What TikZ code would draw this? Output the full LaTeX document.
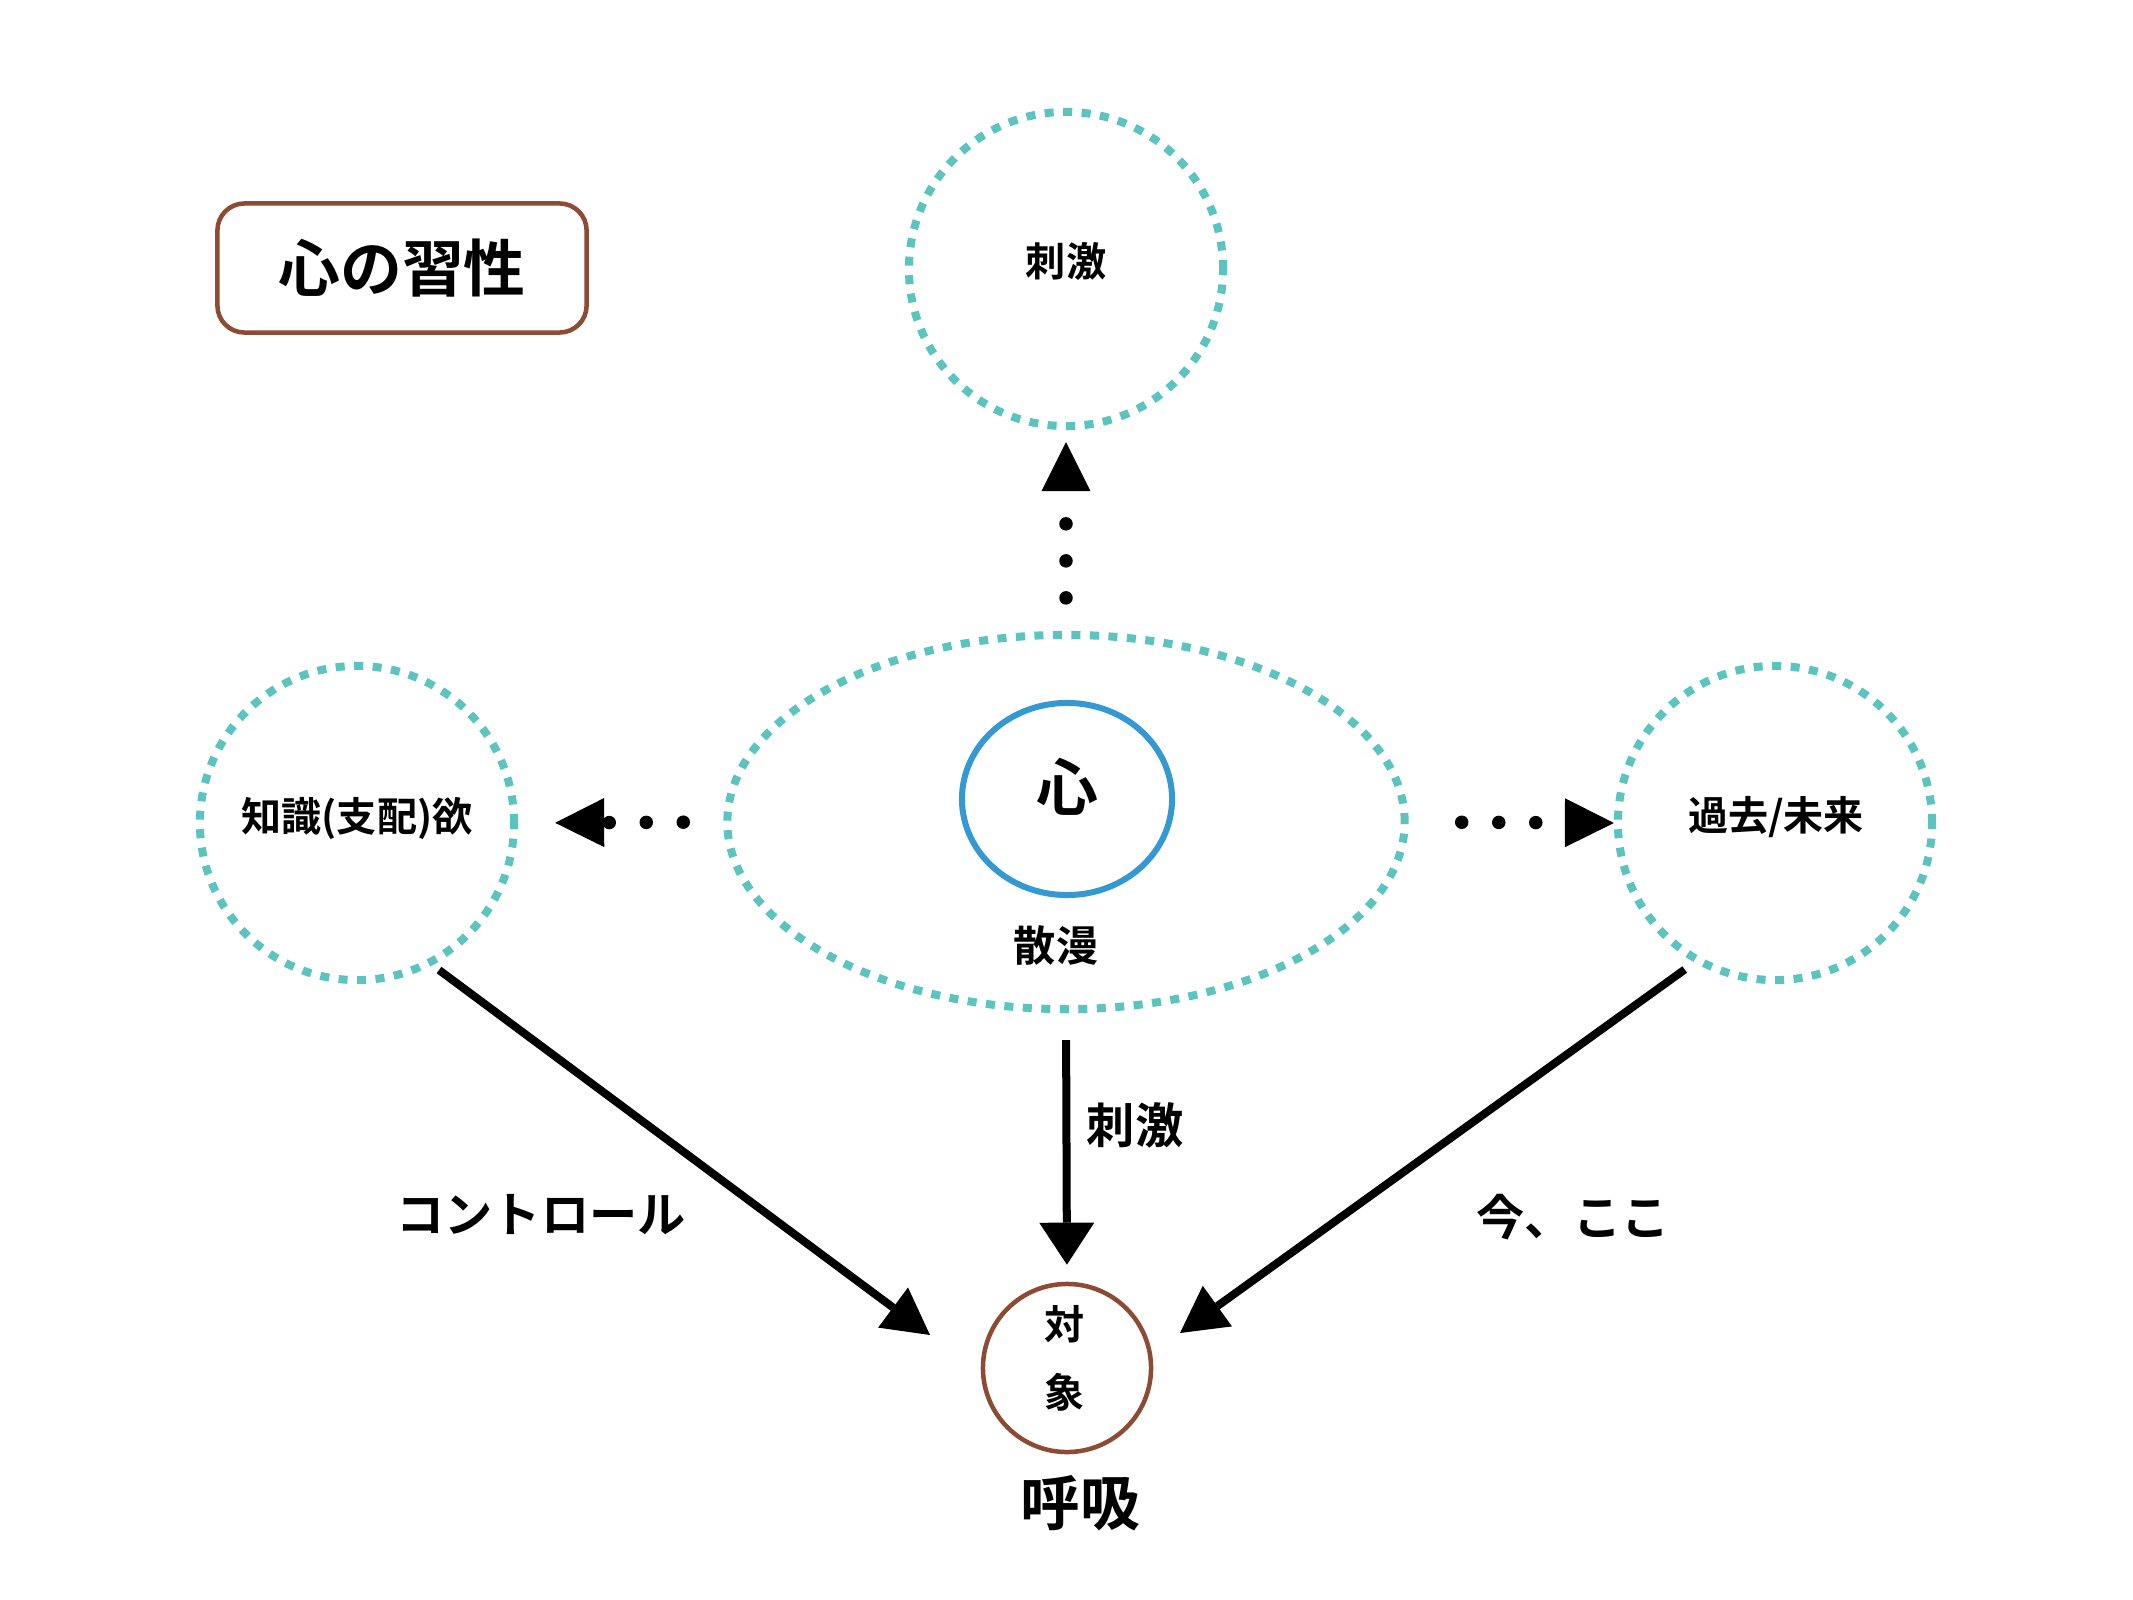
\documentclass[tikz,border=0pt]{standalone}
\usepackage{fontspec}
\setmainfont{Noto Sans CJK JP}[BoldFont={Noto Sans CJK JP Bold}]
\usetikzlibrary{shapes.geometric,arrows.meta}
\definecolor{tealdot}{RGB}{92,196,190}
\definecolor{blueline}{RGB}{52,152,210}
\definecolor{brownline}{RGB}{140,75,50}
\newcommand{\fsz}[1]{\fontsize{#1}{1.2\dimexpr#1\relax}\selectfont\bfseries}
\tikzset{
  dotring/.style={draw=tealdot, line width=0.08cm, dash pattern=on 0.09cm off 0.095cm, circle, inner sep=0pt, minimum size=3.14cm},
  dotconn/.style={line width=0.135cm, line cap=round, dash pattern=on 0pt off 0.37cm,
     -{Triangle[length=0.49cm,width=0.49cm,line width=0pt]}},
  bigarrow/.style={line width=0.08cm, -{Triangle[length=0.46cm,width=0.5cm,line width=0pt]}},
  txt/.style={inner sep=0pt, font=\fsz{11.4pt}},
  lbl/.style={inner sep=0pt, font=\fsz{13.7pt}}
}
\begin{document}
\begin{tikzpicture}[x=0.01cm,y=-0.01cm]
\useasboundingbox (0,0) rectangle (2133,1600);
\fill[white] (0,0) rectangle (2133,1600);
% title
\node[draw=brownline, line width=0.045cm, rounded corners=0.27cm, minimum width=3.69cm, minimum height=1.29cm, inner sep=0pt, font=\fsz{17.6pt}] (title) at (402,268) {心の習性};
% circles
\node[dotring] (top) at (1066,269) {};
\node[txt] (toplbl) at (1066,261) {刺激};
\node[dotring] (L) at (357,823) {};
\node[txt] (Llbl) at (357,819) {知識(支配)欲};
\node[dotring] (R) at (1775,823) {};
\node[txt] (Rlbl) at (1776,817) {過去/未来};
\node[draw=tealdot, line width=0.08cm, dash pattern=on 0.09cm off 0.095cm, ellipse, inner sep=0pt, minimum width=6.77cm, minimum height=3.74cm] (ell) at (1066,822) {};
\node[draw=blueline, line width=0.06cm, ellipse, inner sep=0pt, minimum width=2.1cm, minimum height=1.92cm] (heart) at (1067,799) {};
\node[inner sep=0pt, font=\fsz{17.6pt}] (heartlbl) at (1067,787) {心};
\node[inner sep=0pt, font=\fsz{12pt}] (sanman) at (1056,945) {散漫};
% object
\node[draw=brownline, line width=0.045cm, circle, inner sep=0pt, minimum size=1.68cm] (obj) at (1067,1368) {};
\node[inner sep=0pt, font=\fsz{11.4pt}, align=center] (objlbl) at (1065,1358) {対\\[0.2cm]象};
\node[inner sep=0pt, font=\fsz{17pt}] (kokyu) at (1080,1503) {呼吸};
% dotted connectors
\draw[dotconn, shorten <=0.33cm, shorten >=0.12cm] (ell.north) -- (top.south);
\draw[dotconn, shorten <=0.40cm, shorten >=0.37cm] (ell.west) -- (L.east);
\draw[dotconn, shorten <=0.53cm, shorten >=0cm] (ell.east) -- (R.west);
% arrows
\coordinate (ltip) at (930,1335);
\coordinate (rtip) at (1180,1333);
\draw[bigarrow, shorten <=0.08cm] (L.-62) -- (ltip);
\draw[bigarrow, shorten <=0.12cm] (R.-120) -- (rtip);
\draw[bigarrow, -{Triangle[length=0.42cm,width=0.55cm,line width=0pt]}, shorten <=0.27cm, shorten >=0.17cm] (ell.south) -- (obj.north);
% labels
\node[lbl] (shigeki) at (1135,1125) {刺激};
\node[lbl] (control) at (541,1215) {コントロール};
\node[lbl] (imakoko) at (1573,1217) {今、ここ};
\end{tikzpicture}
\end{document}
